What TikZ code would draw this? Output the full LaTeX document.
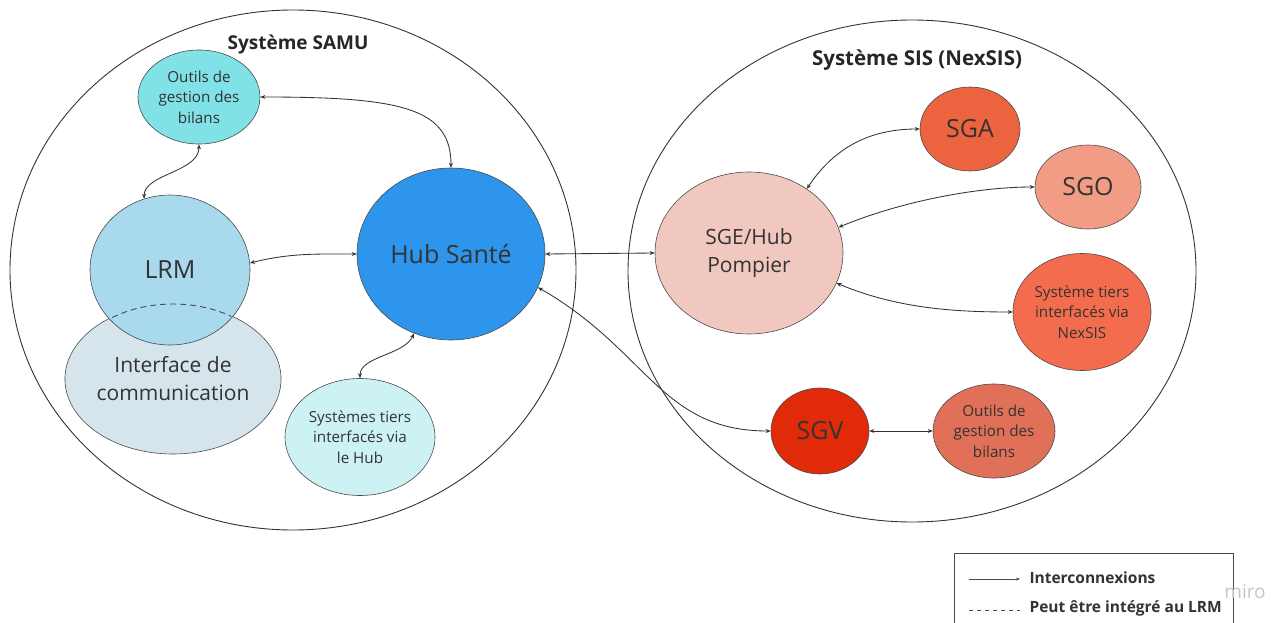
\documentclass[tikz,border=0pt]{standalone}
\usepackage{fontspec}
\setmainfont{Open Sans}
\usetikzlibrary{arrows.meta,shapes.geometric}
\definecolor{ink}{HTML}{333333}
\definecolor{edge}{HTML}{4A4A4A}
\definecolor{outsamufill}{HTML}{80E1E7}
\definecolor{lrmfill}{HTML}{A8D9EC}
\definecolor{ifacefill}{HTML}{D6E4EC}
\definecolor{hubfill}{HTML}{2D96EC}
\definecolor{tiershubfill}{HTML}{CCF2F4}
\definecolor{sgefill}{HTML}{F1C8C0}
\definecolor{sgafill}{HTML}{EC6340}
\definecolor{sgofill}{HTML}{F29C85}
\definecolor{tiersnexfill}{HTML}{F46C4E}
\definecolor{sgvfill}{HTML}{E02A08}
\definecolor{outsisfill}{HTML}{E07058}
\definecolor{watermark}{HTML}{C4C4CC}

\begin{document}
\begin{tikzpicture}[
  x=1pt,y=-1pt,
  sys/.style={draw=ink,ellipse,line width=0.9pt,inner sep=0pt},
  bubble/.style={draw=edge,ellipse,inner sep=0pt,align=center,text=ink,line width=0.6pt},
  big/.style={font=\fontsize{25}{30}\selectfont},
  mid/.style={font=\fontsize{21}{28}\selectfont},
  small/.style={font=\fontsize{15.2}{20.7}\selectfont},
  ttl/.style={font=\fontsize{19}{22}\selectfont\bfseries,text=black!85},
  link/.style={{Stealth[length=5pt,width=4pt]}-{Stealth[length=5pt,width=4pt]},draw=ink,line width=0.85pt},
  legendbox/.style={draw=edge,line width=0.6pt,inner sep=0pt,anchor=north west},
  legtxt/.style={font=\fontsize{15.5}{18}\selectfont\bfseries,text=ink,anchor=west},
]
\useasboundingbox (0,0) rectangle (1271,623);

% --- systems
\node[sys,minimum width=566pt,minimum height=520pt] (samu) at (293,270) {};
\node[ttl] (samuttl) at (298,45) {Système SAMU};
\node[sys,minimum width=568pt,minimum height=502pt] (sis) at (912,271) {};
\node[ttl,font=\fontsize{20.5}{24}\selectfont\bfseries] (sisttl) at (917,60) {Système SIS (NexSIS)};

% --- SAMU side
\node[bubble,small,fill=outsamufill,minimum width=122pt,minimum height=94pt] (outsamu) at (199,97) {Outils de\\gestion des\\bilans};
\node[bubble,mid,fill=ifacefill,minimum width=212pt,minimum height=150pt] (iface) at (173,379) {Interface de\\communication};
\node[bubble,big,fill=lrmfill,minimum width=160pt,minimum height=150pt] (lrm) at (170,270) {LRM};
\begin{scope}
\clip (lrm.center) ellipse [x radius=79pt,y radius=74pt];
\draw[draw=edge,line width=0.9pt,dash pattern=on 6pt off 4pt] (iface.center) ellipse [x radius=106pt,y radius=75pt];
\end{scope}
\node[bubble,big,fill=hubfill,minimum width=188pt,minimum height=172pt] (hub) at (451,254) {Hub Santé};
\node[bubble,small,fill=tiershubfill,minimum width=150pt,minimum height=117pt] (tiershub) at (360,437) {Systèmes tiers\\interfacés via\\le Hub};

% --- SIS side
\node[bubble,mid,fill=sgefill,minimum width=188pt,minimum height=162pt] (sge) at (749,253) {SGE/Hub\\Pompier};
\node[bubble,big,fill=sgafill,minimum width=100pt,minimum height=84pt] (sga) at (970,129) {SGA};
\node[bubble,big,fill=sgofill,minimum width=106pt,minimum height=84pt] (sgo) at (1088,187) {SGO};
\node[bubble,small,fill=tiersnexfill,minimum width=138pt,minimum height=117pt] (tiersnex) at (1082,312) {Système tiers\\interfacés via\\NexSIS};
\node[bubble,big,fill=sgvfill,minimum width=98pt,minimum height=86pt] (sgv) at (820,431) {SGV};
\node[bubble,small,fill=outsisfill,minimum width=122pt,minimum height=94pt] (outsis) at (994,431) {Outils de\\gestion des\\bilans};

% --- interconnexions
\draw[link] (outsamu.east) .. controls +(140,0) and +(0,-60) .. (hub.north);
\draw[link] (outsamu.south) .. controls +(0,28) and +(0,-25) .. (lrm.110);
\draw[link] (lrm.5) .. controls +(40,-10) and +(-40,0) .. (hub.west);
\draw[link] (hub.245) .. controls +(-10,22) and +(0,-22) .. (tiershub.north);
\draw[link] (hub.east) -- (sge.west);
\draw[link] (hub.339) .. controls +(110,63) and +(-110,0) .. (sgv.west);
\draw[link] (sge.48) .. controls +(30,-45) and +(-45,0) .. (sga.west);
\draw[link] (sge.16) .. controls +(60,-25) and +(-60,0) .. (sgo.west);
\draw[link] (sge.341) .. controls +(60,25) and +(-60,0) .. (tiersnex.west);
\draw[link] (sgv.east) -- (outsis.west);

% --- legend
\node[legendbox,minimum width=279pt,minimum height=100pt] (legend) at (954,553) {};
\coordinate (arrowa) at (969,579);
\coordinate (arrowb) at (1020,579);
\coordinate (dasha) at (969,610);
\coordinate (dashb) at (1020,610);
\draw[-{Stealth[length=4pt,width=3pt]},draw=edge,line width=0.6pt] (arrowa) -- (arrowb);
\draw[draw=edge,line width=0.8pt,dash pattern=on 4pt off 4pt] (dasha) -- (dashb);
\node[legtxt] (legone) at (1026,578) {Interconnexions};
\node[legtxt] (legtwo) at (1026,608) {Peut être intégré au LRM};
\node[text=watermark,font=\fontsize{19}{22}\selectfont] (miro) at (1245,592) {miro};
\end{tikzpicture}
\end{document}
